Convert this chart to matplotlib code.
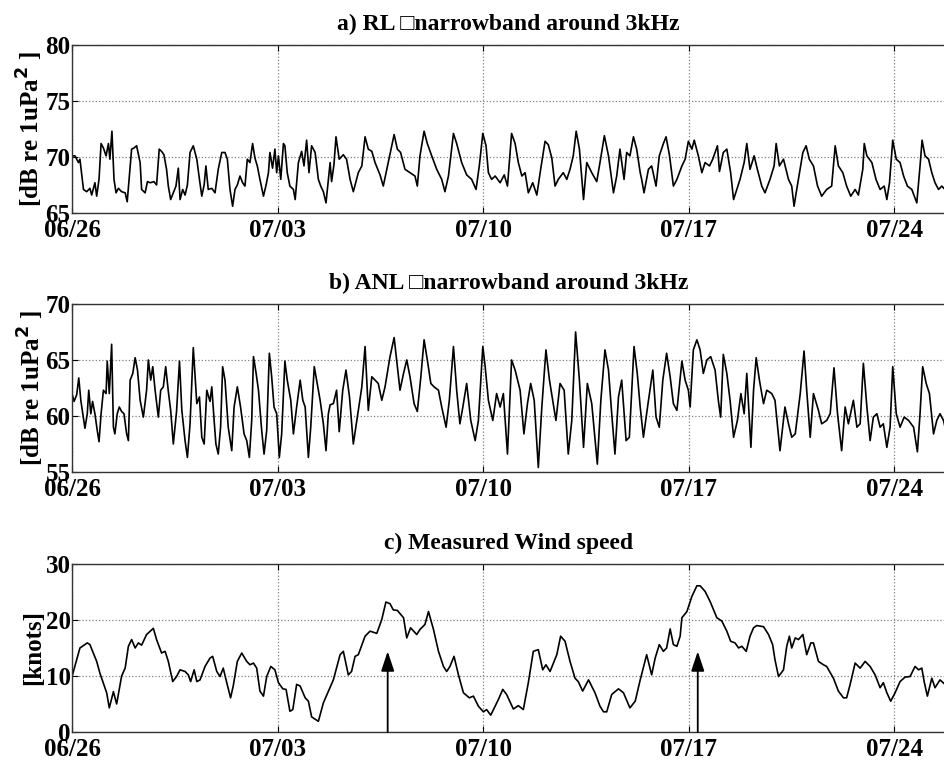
import matplotlib
matplotlib.use('Agg')
import matplotlib.pyplot as plt

plt.rcParams['font.family'] = ['Liberation Serif', 'DejaVu Sans']
plt.rcParams['font.weight'] = 'bold'

# dias desde 06/26 00:00
tick_days = [0, 7, 14, 21, 28]
tick_labels = ['06/26', '07/03', '07/10', '07/17', '07/24']
x_end = 29.73

# a) RL narrowband 3kHz
a_day = [0.00, 0.10, 0.22, 0.27, 0.39, 0.50, 0.61, 0.67, 0.78, 0.84, 0.92, 0.99, 1.07, 1.16, 1.24, 1.29,
         1.36, 1.43, 1.50, 1.58, 1.69, 1.81, 1.88, 1.98, 2.03, 2.11, 2.20, 2.32, 2.37, 2.49, 2.57, 2.66,
         2.79, 2.88, 2.97, 3.05, 3.13, 3.22, 3.28, 3.36, 3.45, 3.54, 3.62, 3.68, 3.77, 3.85, 3.93, 4.02,
         4.13, 4.25, 4.34, 4.42, 4.50, 4.56, 4.64, 4.76, 4.87, 4.98, 5.10, 5.21, 5.29, 5.38, 5.47, 5.55,
         5.63, 5.72, 5.81, 5.89, 5.97, 6.06, 6.15, 6.23, 6.31, 6.40, 6.52, 6.61, 6.69, 6.74, 6.83, 6.91,
         6.97, 7.03, 7.11, 7.20, 7.25, 7.33, 7.42, 7.54, 7.60, 7.71, 7.82, 7.90, 7.99, 8.07, 8.16, 8.28,
         8.39, 8.47, 8.56, 8.65, 8.73, 8.79,
         8.84, 8.92, 8.99, 9.10, 9.24, 9.35, 9.47, 9.58, 9.75, 9.87, 9.98, 10.09, 10.21, 10.32, 10.49, 10.60,
         10.77, 10.97, 11.08, 11.19, 11.34, 11.51, 11.68, 11.76, 11.85, 11.99, 12.10, 12.25, 12.42, 12.59,
         12.70, 12.82, 12.99, 13.10, 13.27, 13.44, 13.61, 13.76, 13.87, 13.99, 14.10, 14.18, 14.29, 14.41,
         14.58, 14.72, 14.83, 14.97, 15.09, 15.20, 15.32, 15.43, 15.54, 15.69, 15.83, 15.96, 16.11, 16.22,
         16.34, 16.45, 16.56, 16.73, 16.85, 16.96, 17.07, 17.17, 17.28, 17.42, 17.53, 17.70, 17.87, 17.98,
         18.13, 18.27, 18.44, 18.55, 18.66, 18.80, 18.89, 19.00, 19.12, 19.23, 19.35,
         19.40, 19.48, 19.63, 19.74, 19.89, 20.00, 20.14, 20.23, 20.35, 20.48, 20.60, 20.77, 20.88, 20.99,
         21.11, 21.19, 21.33, 21.45, 21.56, 21.71, 21.82, 21.98, 22.05, 22.18, 22.30, 22.43, 22.53, 22.64,
         22.75, 22.89, 22.98, 23.09, 23.23, 23.34, 23.49, 23.60, 23.77, 23.91, 23.98, 24.09, 24.23, 24.40,
         24.51, 24.59, 24.68, 24.89, 25.00, 25.11, 25.25, 25.39, 25.53, 25.70, 25.87, 25.99, 26.10, 26.25,
         26.38, 26.52, 26.67, 26.78, 26.93, 26.98, 27.07, 27.24, 27.38, 27.52, 27.66, 27.75, 27.84, 27.95,
         28.07, 28.20, 28.32, 28.45, 28.60, 28.77, 28.88, 28.95, 29.05, 29.17, 29.28, 29.39, 29.51, 29.62,
         29.73]
a_db = [70.1, 70.1, 69.5, 69.8, 67.1, 66.9, 67.2, 66.6, 67.7, 66.5, 68.0, 71.2, 70.8, 70.1, 71.2, 69.8,
        72.3, 68.0, 66.8, 67.2, 66.9, 66.8, 66.0, 69.2, 70.7, 70.8, 71.0, 69.5, 67.1, 66.8, 67.8, 67.7,
        67.8, 67.5, 70.7, 70.5, 70.2, 68.9, 67.4, 66.2, 66.8, 67.4, 69.0, 66.2, 67.1, 66.6, 67.5, 70.4,
        71.0, 69.8, 68.0, 66.5, 67.5, 69.2, 67.1, 67.2, 66.8, 68.9, 70.4, 70.4, 69.8, 67.1, 65.6, 67.1,
        67.5, 68.3, 67.7, 67.4, 69.8, 69.5, 71.2, 69.9, 69.2, 68.0, 66.5, 67.5, 68.6, 70.4, 69.0, 70.7,
        68.6, 70.1, 68.0, 71.2, 71.0, 68.6, 67.4, 67.1, 66.2, 69.5, 70.5, 69.2, 71.5, 68.6, 71.0, 70.4,
        68.0, 67.4, 66.9, 65.9, 68.0, 69.5,
        67.8, 69.3, 71.8, 69.8, 70.2, 69.8, 68.0, 66.9, 68.6, 69.2, 71.8, 70.7, 70.5, 69.5, 68.4, 67.4,
        69.5, 72.0, 70.7, 70.4, 68.9, 68.6, 68.3, 67.4, 70.1, 72.3, 71.2, 70.1, 68.9, 68.0,
        66.9, 68.3, 72.1, 71.2, 69.5, 68.4, 68.0, 67.1, 69.2, 72.1, 71.0, 68.6, 68.0, 68.3,
        67.7, 68.4, 67.4, 72.1, 71.2, 69.5, 68.3, 68.6, 66.8, 67.7, 66.6, 68.9, 71.4, 71.1,
        69.9, 67.4, 68.0, 68.6, 68.0, 68.9, 70.1, 72.3, 70.7, 66.2, 69.5, 68.6, 67.8, 69.5,
        71.9, 70.1, 66.8, 68.3, 70.7, 68.0, 70.4, 70.1, 71.8, 70.7, 68.6,
        68.0, 66.8, 68.9, 69.2, 67.4, 70.1, 71.2, 71.8, 70.1, 67.4, 68.0, 69.2, 69.8, 71.4,
        70.7, 71.5, 70.1, 68.6, 69.5, 69.2, 69.8, 71.0, 68.7, 70.4, 70.7, 68.6, 66.2, 67.1,
        68.0, 69.5, 71.2, 68.9, 70.1, 68.9, 67.4, 66.8, 68.0, 69.2, 71.2, 69.2, 69.8, 68.0,
        67.4, 65.6, 67.1, 70.4, 71.0, 69.8, 69.2, 67.4, 66.5, 67.1, 67.4, 71.0, 69.2, 68.6,
        67.4, 66.5, 67.1, 66.6, 68.9, 71.2, 70.1, 69.5, 68.0, 67.1, 67.4, 66.2, 67.7, 71.5,
        69.8, 69.5, 68.3, 67.4, 67.1, 65.9, 69.2, 71.5, 70.1, 69.8, 68.6, 67.7, 67.1, 67.4,
        67.1]

# b) ANL narrowband 3kHz
b_day = [0.00, 0.07, 0.16, 0.23, 0.30, 0.39, 0.44, 0.52, 0.57, 0.64, 0.70, 0.78, 0.86, 0.92, 0.99, 1.07,
         1.16, 1.20, 1.27, 1.35, 1.41, 1.46, 1.54, 1.61, 1.69, 1.77, 1.86, 1.92, 1.98, 2.07, 2.15, 2.23,
         2.32, 2.43, 2.54, 2.60, 2.68, 2.75, 2.83, 2.94, 3.02, 3.11, 3.19, 3.28, 3.36, 3.45, 3.56, 3.66,
         3.74, 3.85, 3.93, 4.02, 4.13, 4.25, 4.34, 4.42, 4.50, 4.59, 4.70, 4.76, 4.84, 4.90, 4.98, 5.06,
         5.13, 5.21, 5.32, 5.44, 5.52, 5.63, 5.74, 5.86, 5.95, 6.04, 6.12, 6.18, 6.27, 6.35, 6.46, 6.54,
         6.63, 6.72, 6.80, 6.88, 6.97, 7.06, 7.14, 7.25, 7.33, 7.45, 7.54, 7.65, 7.77, 7.86, 7.94, 8.05,
         8.13, 8.25, 8.33, 8.45, 8.56, 8.65, 8.73, 8.79,
         8.90, 9.01, 9.10, 9.22, 9.33, 9.45, 9.58, 9.70, 9.87, 9.98, 10.09, 10.21, 10.32, 10.43, 10.55,
         10.66, 10.83, 10.97, 11.08, 11.17, 11.29, 11.40, 11.51, 11.65, 11.76, 11.88, 11.99, 12.10, 12.22,
         12.33, 12.48, 12.59, 12.74, 12.85, 12.99, 13.10, 13.21, 13.31, 13.44, 13.58, 13.73, 13.84, 13.99,
         14.07, 14.18, 14.33, 14.46, 14.58, 14.69, 14.83, 14.97, 15.09, 15.26, 15.39, 15.51, 15.62, 15.74,
         15.88, 16.00, 16.14, 16.26, 16.37, 16.48, 16.62, 16.76, 16.90, 17.02, 17.15, 17.28, 17.42, 17.55,
         17.70, 17.89, 18.01, 18.15, 18.27, 18.38, 18.49, 18.61, 18.72, 18.87, 18.98, 19.14, 19.25, 19.35,
         19.46, 19.60, 19.78, 19.89, 20.00, 20.12, 20.25, 20.37, 20.48, 20.60, 20.77, 20.88, 20.99, 21.05,
         21.16, 21.28, 21.39, 21.50, 21.62, 21.75, 21.90, 22.01, 22.09, 22.18, 22.30, 22.41, 22.53, 22.66,
         22.78, 22.89, 22.98, 23.12, 23.21, 23.30, 23.41, 23.55, 23.66, 23.83, 23.94, 24.11, 24.28, 24.40,
         24.51, 24.63, 24.80, 24.93, 25.02, 25.14, 25.25, 25.42, 25.53, 25.70, 25.82, 25.95, 26.07, 26.21,
         26.33, 26.44, 26.61, 26.73, 26.84, 26.95, 27.07, 27.18, 27.29, 27.41, 27.52, 27.63, 27.75, 27.86,
         27.95, 28.07, 28.20, 28.34, 28.49, 28.66, 28.79, 28.88, 28.97, 29.09, 29.20, 29.34, 29.45, 29.56,
         29.68, 29.73]
b_db = [62.0, 61.3, 61.9, 63.4, 61.4, 59.8, 58.9, 60.2, 62.3, 60.2, 61.3, 60.2, 58.7, 57.7, 60.2, 62.3,
        62.0, 64.9, 62.0, 66.4, 59.0, 58.4, 60.2, 60.8, 60.4, 60.2, 58.4, 57.8, 63.2, 63.8, 65.2, 64.1,
        61.4, 59.9, 62.3, 65.0, 63.2, 64.4, 62.3, 59.9, 62.3, 62.6, 64.4, 62.2, 60.5, 57.5, 60.4, 64.9,
        60.5, 57.8, 56.3, 59.3, 66.1, 61.1, 61.7, 58.1, 57.5, 62.3, 61.3, 62.6, 59.6, 57.5, 56.6, 59.0,
        64.4, 63.2, 59.0, 56.9, 60.8, 62.6, 60.8, 58.4, 57.8, 56.3, 59.6, 65.3, 63.8, 62.3, 58.7, 56.6,
        58.7, 65.6, 63.5, 60.8, 60.2, 56.3, 58.4, 64.9, 63.2, 61.4, 58.4, 60.8, 63.2, 61.4, 60.8, 56.3,
        59.0, 64.4, 63.2, 61.4, 59.3, 56.9, 60.2, 61.0,
        61.1, 62.3, 58.6, 62.3, 64.1, 61.7, 57.5, 59.6, 62.6, 66.2, 60.5, 63.5, 63.2, 62.9, 61.4,
        62.6, 65.3, 67.0, 64.4, 62.3, 63.8, 65.0, 63.5, 61.1, 60.4, 63.5, 66.8, 65.0, 62.9,
        62.6, 62.3, 60.8, 59.0, 61.4, 66.2, 62.3, 59.3, 60.8, 62.9, 59.6, 57.8, 59.6, 66.2,
        64.4, 61.4, 59.6, 62.0, 60.8, 62.0, 56.6, 65.0, 64.1, 62.3, 58.4, 61.1, 62.9, 61.4,
        55.4, 60.8, 65.9, 63.2, 61.4, 59.6, 62.9, 62.3, 56.6, 59.6, 67.5, 63.2, 57.2, 62.9,
        61.1, 55.7, 61.4, 65.9, 64.1, 60.2, 56.6, 61.7, 63.2, 57.8, 58.1, 66.2, 63.8, 60.8,
        58.1, 60.8, 64.1, 59.9, 59.0, 63.2, 65.6, 63.5, 61.1, 60.5, 64.9, 63.2, 62.3, 60.8,
        65.9, 66.8, 65.9, 63.8, 65.0, 65.3, 64.1, 61.4, 59.9, 65.5, 63.8, 61.4, 58.1, 59.6,
        62.0, 60.2, 63.8, 57.2, 62.3, 65.2, 63.2, 61.1, 62.3, 62.0, 61.4, 56.9, 60.8, 59.3,
        58.1, 58.4, 62.0, 65.8, 62.3, 58.1, 62.0, 60.5, 59.3, 59.6, 60.2, 64.3, 60.2, 56.9,
        60.8, 59.3, 61.4, 59.0, 59.3, 64.7, 60.8, 57.8, 59.9, 60.2, 59.0, 59.3, 57.2, 59.0,
        64.4, 60.2, 59.0, 59.9, 59.6, 59.0, 56.8, 60.2, 64.4, 62.9, 62.0, 58.4, 59.6, 60.2,
        59.6, 59.0]

# c) vento medido
wind_day = [0.00, 0.27, 0.52, 0.61, 0.84, 0.95, 1.18, 1.27, 1.41, 1.52, 1.69, 1.81, 1.92, 2.03, 2.15, 2.26,
            2.37, 2.54, 2.77, 2.88, 3.05, 3.17, 3.28, 3.43, 3.56, 3.68, 3.85, 3.96, 4.04, 4.16, 4.25, 4.36,
            4.53, 4.70, 4.79, 4.93, 5.04, 5.15, 5.27, 5.40, 5.49, 5.63, 5.78, 5.95, 6.06, 6.18, 6.29, 6.40,
            6.52, 6.63, 6.77, 6.91, 7.03, 7.18, 7.29, 7.42, 7.52, 7.65, 7.77, 7.94, 8.05, 8.16, 8.39, 8.56,
            8.90, 9.13, 9.24, 9.41, 9.52, 9.64, 9.75, 9.98, 10.15, 10.38, 10.55, 10.69, 10.83, 10.94, 11.08,
            11.29, 11.40, 11.53, 11.74, 11.85, 12.02, 12.14, 12.31, 12.48, 12.65, 12.76, 12.87, 13.01, 13.16,
            13.33, 13.53, 13.67, 13.84, 14.01, 14.12, 14.26, 14.41, 14.52, 14.67, 14.80, 15.03, 15.20, 15.37,
            15.54, 15.71, 15.88, 16.03, 16.14, 16.28, 16.51, 16.64, 16.79, 16.96, 17.13, 17.24, 17.39, 17.59,
            17.81, 17.98, 18.10, 18.21, 18.38, 18.61, 18.78, 19.00, 19.18, 19.35,
            19.57, 19.74, 19.86, 20.00, 20.14, 20.25, 20.37, 20.48, 20.60, 20.71, 20.77, 20.94, 21.11, 21.28,
            21.39, 21.56, 21.73, 21.96, 22.13, 22.30, 22.43, 22.58, 22.70, 22.81, 22.96, 23.09, 23.21, 23.32,
            23.55, 23.72, 23.86, 23.94, 24.06, 24.23, 24.34, 24.43, 24.51, 24.63, 24.74, 24.89, 25.02, 25.16,
            25.25, 25.42, 25.59, 25.70, 25.93, 26.10, 26.27, 26.38, 26.50, 26.67, 26.84, 27.01, 27.18, 27.35,
            27.52, 27.63, 27.75, 27.88, 28.03, 28.20, 28.37, 28.54, 28.71, 28.83, 28.94, 29.02, 29.13, 29.28,
            29.39, 29.56, 29.73]
wind_kn = [9.9, 15.0, 15.9, 15.6, 12.6, 10.5, 7.0, 4.3, 7.2, 5.0, 10.0, 11.4, 15.3, 16.5, 15.0, 15.9,
           15.5, 17.4, 18.5, 16.5, 14.1, 14.4, 12.6, 9.0, 9.9, 11.1, 10.8, 10.2, 9.0, 11.1, 9.0, 9.3,
           11.7, 13.2, 13.5, 10.8, 9.9, 11.4, 8.8, 6.1, 8.2, 12.6, 14.1, 12.6, 12.0, 12.3, 11.4, 7.3,
           6.4, 9.9, 11.7, 11.1, 8.8, 7.7, 7.6, 3.7, 4.0, 8.5, 8.2, 6.1, 5.5, 2.7, 1.9, 5.2,
           9.3, 13.8, 14.4, 10.2, 10.8, 13.5, 13.8, 17.1, 18.0, 17.6, 20.1, 23.2, 22.9, 21.8, 21.7,
           20.4, 16.8, 18.6, 17.4, 18.3, 19.2, 21.5, 18.3, 14.4, 11.7, 10.8, 11.7, 13.5, 10.2,
           7.0, 6.1, 6.4, 4.6, 3.6, 4.0, 3.0, 4.6, 5.8, 7.6, 6.7, 4.1, 4.7, 4.0,
           8.8, 14.4, 14.7, 11.1, 12.0, 10.8, 13.8, 17.1, 16.2, 12.6, 9.6, 9.0, 7.3, 9.3,
           7.0, 4.6, 3.6, 3.6, 6.7, 7.7, 7.0, 4.3, 5.5, 9.3,
           13.8, 10.2, 13.2, 15.6, 14.4, 15.0, 18.4, 15.6, 15.3, 17.1, 20.4, 21.5, 24.2, 26.1,
           26.1, 25.1, 23.3, 20.4, 19.8, 18.0, 16.2, 15.9, 15.0, 15.3, 14.4, 17.1, 18.6, 19.0,
           18.8, 17.4, 15.6, 12.9, 9.9, 11.1, 15.3, 17.1, 15.0, 16.8, 16.5, 17.4, 13.8, 15.9,
           15.9, 12.6, 12.0, 11.7, 9.6, 7.3, 6.1, 6.1, 8.5, 12.3, 11.4, 12.6, 11.7, 10.2,
           7.9, 8.8, 7.0, 5.5, 7.0, 9.0, 9.8, 9.9, 11.7, 11.1, 11.4, 9.0, 6.4, 9.6,
           7.9, 9.3, 8.5]

# setas (eventos de vento forte)
arrow_days = [10.75, 21.31]
arrow_top = 14.4

titulos = ['a) RL \u25a1narrowband around 3kHz',
           'b) ANL \u25a1narrowband around 3kHz',
           'c) Measured Wind speed']
ylabels = [r'[dB re 1uPa$^{\mathbf{2}}$ ]', r'[dB re 1uPa$^{\mathbf{2}}$ ]', '[knots]']
ylims = [(65, 80), (55, 70), (0, 30)]
yticks = [[65, 70, 75, 80], [55, 60, 65, 70], [0, 10, 20, 30]]
series = [(a_day, a_db), (b_day, b_db), (wind_day, wind_kn)]

fig = plt.figure(figsize=(9.45, 7.62), dpi=100)
bottoms = [0.7205, 0.3806, 0.0394]
eixos = []
for i in range(3):
    ax = fig.add_axes([0.0762, bottoms[i], 0.9238, 0.2205])
    x, y = series[i]
    ax.plot(x, y, color='black', linewidth=1.2)
    ax.set_xlim(0, x_end)
    ax.set_ylim(*ylims[i])
    ax.set_yticks(yticks[i])
    ax.set_xticks(tick_days)
    ax.set_xticklabels(tick_labels)
    ax.grid(True, linestyle=':', color='#808080', linewidth=0.9)
    ax.tick_params(direction='in', length=4, labelsize=18, pad=1, top=True)
    ax.tick_params(axis='x', pad=4)
    ax.spines['right'].set_visible(False)
    for s in ['left', 'top', 'bottom']:
        ax.spines[s].set_linewidth(1.0)
        ax.spines[s].set_color('#333333')
    ax.set_title(titulos[i], fontsize=17, fontweight='bold', pad=11)
    ax.set_ylabel(ylabels[i], fontsize=18, fontweight='bold', labelpad=0)
    for lab in ax.get_xticklabels() + ax.get_yticklabels():
        lab.set_fontweight('bold')
    eixos.append(ax)

for d in arrow_days:
    eixos[2].annotate('', xy=(d, arrow_top), xytext=(d, 0),
                      arrowprops=dict(arrowstyle='-|>,head_length=0.6,head_width=0.2', color='black',
                                      lw=1.3, mutation_scale=20, shrinkA=0, shrinkB=0))

fig.savefig('out.png', dpi=100)
